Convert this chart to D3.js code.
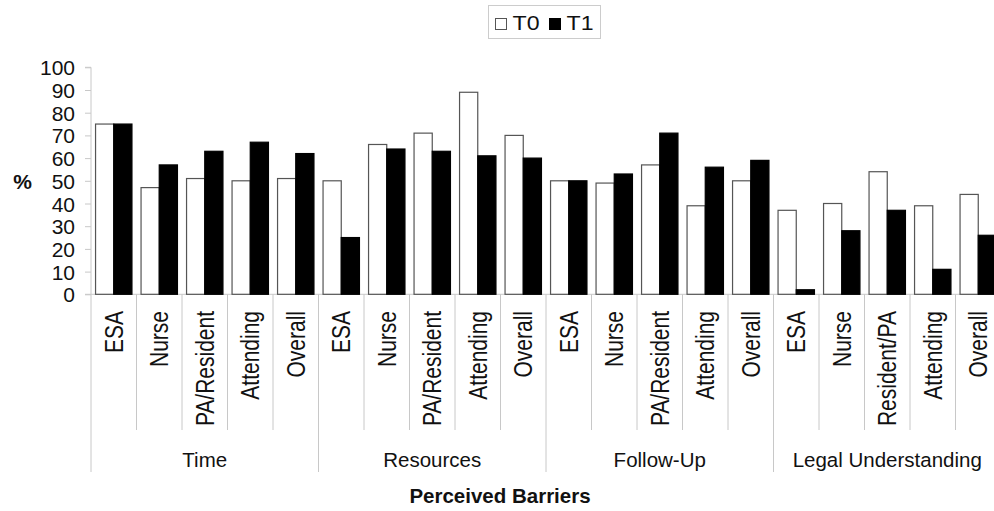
<!DOCTYPE html>
<html><head><meta charset="utf-8">
<script src="https://cdn.jsdelivr.net/npm/d3@7"></script>
<style>body{margin:0;background:#fff}svg{display:block;font-family:"Liberation Sans",Arial,sans-serif}</style>
</head><body>
<svg id="c" width="994" height="511"></svg>
<script>
const groups = ["Time","Resources","Follow-Up","Legal Understanding"];
const roles = [
  ["ESA","Nurse","PA/Resident","Attending","Overall"],
  ["ESA","Nurse","PA/Resident","Attending","Overall"],
  ["ESA","Nurse","PA/Resident","Attending","Overall"],
  ["ESA","Nurse","Resident/PA","Attending","Overall"]
];
const seriesNames = ["T0","T1"];
const t0 = [75,47,51,50,51, 50,66,71,89,70, 50,49,57,39,50, 37,40,54,39,44];
const t1 = [75,57,63,67,62, 25,64,63,61,60, 50,53,71,56,59, 2,28,37,11,26];
const yTicks = [0,10,20,30,40,50,60,70,80,90,100];

const cats = [];
groups.forEach((g,gi)=>roles[gi].forEach((r,ri)=>cats.push({key:g+"|"+ri, group:g, role:r, gi, ri})));
const data = cats.map((c,i)=>({...c, vals:[t0[i], t1[i]]}));

const svg = d3.select("#c");
const pLeft = 91, pRight = 1001, pTop = 67.3, pBottom = 294.3;
const x0 = d3.scaleBand().domain(cats.map(c=>c.key)).range([pLeft,pRight]).paddingInner(0.2).paddingOuter(0.1);
const x1 = d3.scaleBand().domain(seriesNames).range([0,x0.bandwidth()]).padding(0);
const y = d3.scaleLinear().domain([0,100]).range([pBottom,pTop]);
const step = x0.step();
const gridCol = "#c8c8c8";

// y axis
const yAxis = d3.axisLeft(y).tickValues(yTicks).tickSize(6).tickPadding(10);
const ga = svg.append("g").attr("transform",`translate(${pLeft},0)`).call(yAxis);
ga.select(".domain").attr("stroke",gridCol).attr("d",`M-6,${pTop}H0V${pBottom}`);
ga.selectAll(".tick line").attr("stroke",gridCol);
ga.selectAll(".tick text").attr("font-size",21).attr("fill","#111").attr("font-family","'Liberation Sans',Arial,sans-serif").attr("dy","0.36em");

// x axis baseline
svg.append("line").attr("x1",pLeft-6).attr("x2",pRight).attr("y1",pBottom).attr("y2",pBottom).attr("stroke",gridCol);

// separators
data.forEach((d,i)=>{
  const xs = x0(d.key) - step*0.1;
  const isGroup = d.ri===0;
  svg.append("line").attr("x1",xs).attr("x2",xs).attr("y1",pBottom).attr("y2",isGroup?472:430).attr("stroke",gridCol);
});
svg.append("line").attr("x1",pRight).attr("x2",pRight).attr("y1",pBottom).attr("y2",472).attr("stroke",gridCol);

// bars
const cg = svg.append("g").selectAll("g").data(data).join("g").attr("transform",d=>`translate(${x0(d.key)},0)`);
cg.selectAll("rect").data(d=>d.vals.map((v,k)=>({v,s:seriesNames[k]}))).join("rect")
  .attr("x",d=>x1(d.s)).attr("width",x1.bandwidth())
  .attr("y",d=>y(d.v)).attr("height",d=>y(0)-y(d.v))
  .attr("fill",d=>d.s==="T0"?"#fff":"#000")
  .attr("stroke",d=>d.s==="T0"?"#555":"#000").attr("stroke-width",1.2);

// category labels
svg.append("g").selectAll("text").data(data).join("text")
  .attr("transform",d=>`translate(${x0(d.key)+x0.bandwidth()/2+9},311) rotate(-90) scale(1,1.22)`)
  .attr("text-anchor","end").attr("font-size",21).attr("fill","#111").text(d=>d.role);

// group labels
groups.forEach((g,gi)=>{
  const ks = cats.filter(c=>c.gi===gi).map(c=>c.key);
  const cx = (x0(ks[0]) - step*0.1 + x0(ks[ks.length-1]) + step*0.9)/2;
  svg.append("text").attr("x",cx).attr("y",467).attr("text-anchor","middle").attr("font-size",20.5).attr("fill","#111").text(g);
});

// axis titles
svg.append("text").attr("x",500).attr("y",503).attr("text-anchor","middle").attr("font-size",20.5).attr("font-weight","bold").attr("fill","#111").text("Perceived Barriers");
svg.append("text").attr("x",22.5).attr("y",189).attr("text-anchor","middle").attr("font-size",21).attr("font-weight","bold").attr("fill","#111").text("%");

// legend
const lg = svg.append("g");
lg.append("rect").attr("x",488.5).attr("y",5.5).attr("width",112).attr("height",33).attr("fill","#fff").attr("stroke","#ccc");
const items = [{s:"T0",x:495},{s:"T1",x:549}];
items.forEach(it=>{
  lg.append("rect").attr("x",it.x+0.5).attr("y",18.5).attr("width",11).attr("height",11)
    .attr("fill",it.s==="T0"?"#fff":"#000").attr("stroke",it.s==="T0"?"#555":"#000");
  lg.append("text").attr("x",it.x+17.5).attr("y",30).attr("font-size",20).attr("fill","#111")
    .attr("textLength",27).attr("lengthAdjust","spacingAndGlyphs").text(it.s);
});
</script>
</body></html>
